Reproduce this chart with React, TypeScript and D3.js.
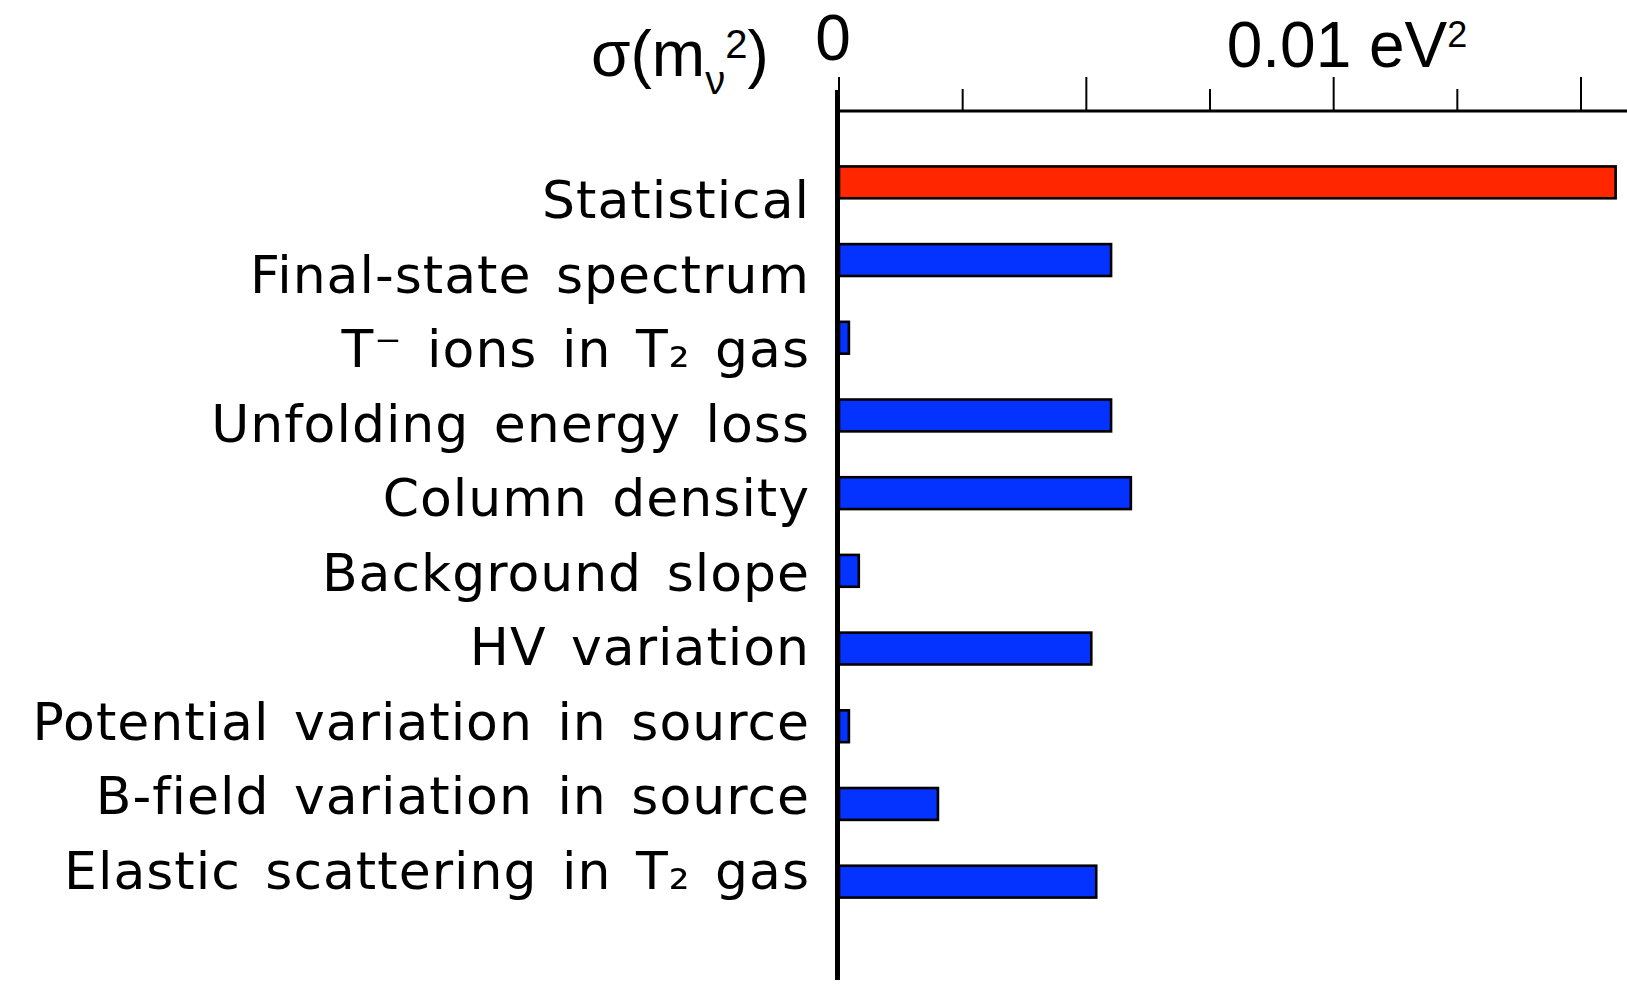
import React from "react";
import * as d3 from "d3";

// Contributions to the uncertainty on the squared neutrino mass (eV²)
const categories = [
  "Statistical",
  "Final-state spectrum",
  "T⁻ ions in T₂ gas",
  "Unfolding energy loss",
  "Column density",
  "Background slope",
  "HV variation",
  "Potential variation in source",
  "B-field variation in source",
  "Elastic scattering in T₂ gas",
];
const sigmaM2 = [0.0157, 0.0055, 0.0002, 0.0055, 0.0059, 0.0004, 0.0051, 0.0002, 0.002, 0.0052];
const errorKind = ["stat", "syst", "syst", "syst", "syst", "syst", "syst", "syst", "syst", "syst"];

const tickValues = [0, 0.0025, 0.005, 0.0075, 0.01, 0.0125, 0.015];
const majorTicks = [0, 0.005, 0.01, 0.015];

const KIND_COLOR: Record<string, string> = { stat: "#FF2600", syst: "#0433FF" };

export default function App() {
  const W = 1627;
  const H = 984;
  const axisY = 111;

  const x = d3.scaleLinear().domain([0, 0.015]).range([839, 1581]);
  const y = d3
    .scaleBand<string>()
    .domain(categories)
    .range([143.5, 920.5])
    .paddingInner(0.59)
    .paddingOuter(0.295);
  const yLabel = d3.scalePoint<string>().domain(categories).range([218, 889]);

  const labelFont = "'DejaVu Sans', 'Noto Sans', sans-serif";
  const axisFont = "'Liberation Sans', Arial, Helvetica, sans-serif";

  return (
    <svg
      width={W}
      height={H}
      viewBox={`0 0 ${W} ${H}`}
      style={{ position: "fixed", left: 0, top: 0, background: "#fff", display: "block" }}
    >
      <rect x={0} y={0} width={W} height={H} fill="#fff" />

      {/* bars */}
      <g>
        {categories.map((c, i) => (
          <rect
            key={c}
            x={x(0)}
            y={y(c)}
            width={x(sigmaM2[i]) - x(0)}
            height={y.bandwidth()}
            fill={KIND_COLOR[errorKind[i]]}
            stroke="#000"
            strokeWidth={2.6}
          />
        ))}
      </g>

      {/* category labels */}
      <g
        fontFamily={labelFont}
        fontSize={52}
        fill="#000"
        textAnchor="end"
        letterSpacing={1}
        wordSpacing={7}
      >
        {categories.map((c) => (
          <text key={c} x={810} y={yLabel(c)}>
            {c}
          </text>
        ))}
      </g>

      {/* top axis */}
      <line x1={x(0) - 2} x2={W} y1={axisY} y2={axisY} stroke="#000" strokeWidth={3} />
      {tickValues.map((t) => {
        const major = majorTicks.some((m) => Math.abs(m - t) < 1e-9);
        return (
          <line
            key={t}
            x1={x(t)}
            x2={x(t)}
            y1={axisY}
            y2={major ? 77 : 89}
            stroke="#000"
            strokeWidth={2}
          />
        );
      })}
      {/* vertical baseline */}
      <line x1={x(0) - 1.5} x2={x(0) - 1.5} y1={90} y2={980} stroke="#000" strokeWidth={5} />

      {/* axis labels */}
      <g fontFamily={axisFont} fill="#000">
        <text x={x(0) - 6} y={60} fontSize={64} textAnchor="middle">
          0
        </text>
        <text x={x(0.01) - 107} y={67} fontSize={64}>
          0.01 eV
          <tspan fontSize={36} dy={-20}>
            2
          </tspan>
        </text>
        <text x={591} y={76} fontSize={64}>
          σ(m
          <tspan fontSize={40} dy={18}>
            ν
          </tspan>
          <tspan fontSize={40} dy={-36}>
            2
          </tspan>
          <tspan fontSize={64} dy={18}>
            )
          </tspan>
        </text>
      </g>
    </svg>
  );
}
